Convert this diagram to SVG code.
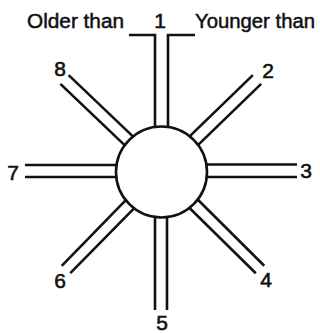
<svg xmlns="http://www.w3.org/2000/svg" width="320" height="333" viewBox="0 0 320 333">
<style>
.s{fill:none;stroke:#111;stroke-width:2.6;stroke-linecap:butt;stroke-linejoin:miter}
.t{font-family:"Liberation Sans",Arial,sans-serif;font-size:20px;fill:#111;stroke:#111;stroke-width:0.5}
.n{font-family:"Liberation Sans",Arial,sans-serif;font-size:21px;fill:#111;stroke:#111;stroke-width:0.6;text-anchor:middle}
</style>
<rect width="320" height="333" fill="#fff"/>
<g id="connectors">
<g id="spoke1"><path class="s" d="M129 35H155V172"/><path class="s" d="M195 35H168V172"/></g>
<g id="spoke2"><path class="s" d="M165.67 176.31L261.17 83.81"/><path class="s" d="M157.33 167.69L252.83 75.19"/></g>
<g id="spoke3"><path class="s" d="M161.5 164.5H297"/><path class="s" d="M161.5 177H297"/></g>
<g id="spoke4"><path class="s" d="M157.29 176.28L255.79 273.28"/><path class="s" d="M165.71 167.72L264.21 265.72"/></g>
<g id="spoke5"><path class="s" d="M155 172V310"/><path class="s" d="M167 172V310"/></g>
<g id="spoke6"><path class="s" d="M165.78 176.21L70.28 273.21"/><path class="s" d="M157.22 167.79L61.72 265.79"/></g>
<g id="spoke7"><path class="s" d="M25 165H161.5"/><path class="s" d="M25 177H161.5"/></g>
<g id="spoke8"><path class="s" d="M165.64 167.66L68.64 75.16"/><path class="s" d="M157.36 176.34L60.36 83.84"/></g>
</g>
<g id="hub"><circle cx="161.5" cy="172" r="45.5" fill="#fff" stroke="#111" stroke-width="2.6"/></g>
<g id="labels">
<text class="t" x="27" y="28" textLength="97" lengthAdjust="spacingAndGlyphs">Older than</text>
<text class="t" x="195" y="28" textLength="120" lengthAdjust="spacingAndGlyphs">Younger than</text>
<text class="n" x="160" y="28">1</text>
<text class="n" x="268" y="78">2</text>
<text class="n" x="306" y="178">3</text>
<text class="n" x="266" y="287">4</text>
<text class="n" x="162" y="330">5</text>
<text class="n" x="60" y="288">6</text>
<text class="n" x="13" y="180">7</text>
<text class="n" x="60" y="76">8</text>
</g>
</svg>
